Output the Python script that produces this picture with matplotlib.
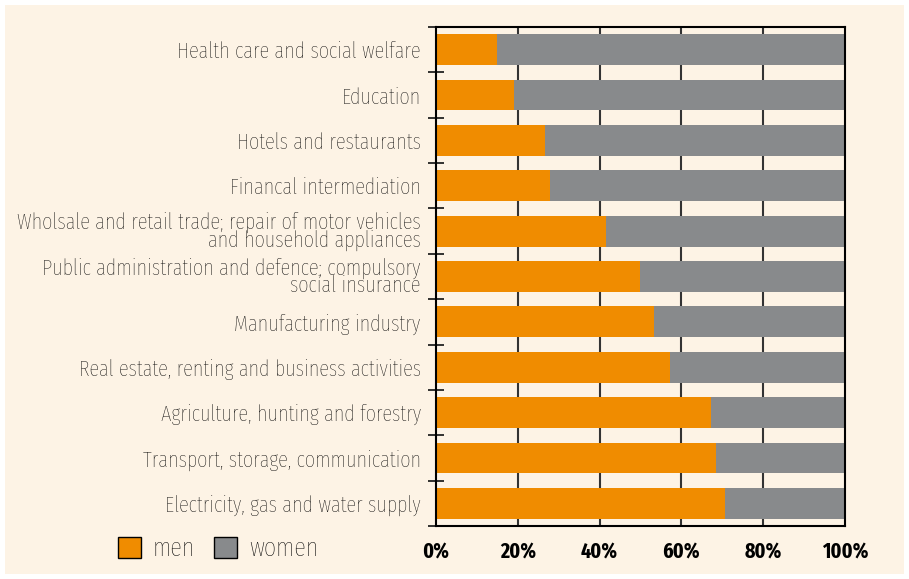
import matplotlib
matplotlib.use("Agg")
import matplotlib.pyplot as plt
from matplotlib.patches import Patch, Rectangle
import numpy as np

# categories from top to bottom
sectors = [
    "Health care and social welfare",
    "Education",
    "Hotels and restaurants",
    "Financal intermediation",
    "Wholsale and retail trade; repair of motor vehicles\nand household appliances",
    "Public administration and defence; compulsory\nsocial insurance",
    "Manufacturing industry",
    "Real estate, renting and business activities",
    "Agriculture, hunting and forestry",
    "Transport, storage, communication",
    "Electricity, gas and water supply",
]
men = [14.9, 19.1, 26.7, 27.9, 41.5, 49.9, 53.3, 57.2, 67.2, 68.5, 70.7]
women = [100 - m for m in men]
xticks = [0, 20, 40, 60, 80, 100]

orange = "#f08c00"
grey = "#888a8c"
cream = "#fdf3e5"
fam = ["Fira Sans Extra Condensed", "DejaVu Sans"]

fig = plt.figure(figsize=(9.09, 5.79), dpi=100, facecolor="white")
fig.patches.append(Rectangle((5 / 909, 5 / 579), 899 / 909, 569 / 579,
                             transform=fig.transFigure, facecolor=cream,
                             edgecolor="none", zorder=-10))
ax = fig.add_axes([436 / 909, 53 / 579, 409 / 909, 499 / 579])
ax.set_facecolor(cream)

y = np.arange(len(sectors))
ax.barh(y, men, height=0.68, color=orange, zorder=2)
ax.barh(y, women, left=men, height=0.68, color=grey, zorder=2)

ax.set_xlim(0, 100)
ax.set_ylim(len(sectors) - 0.5, -0.5)

for x in xticks[1:-1]:
    ax.axvline(x, color="#333333", lw=1.5, zorder=1)

for s in ax.spines.values():
    s.set_linewidth(1.5)
    s.set_color("black")

ax.set_xticks(xticks)
ax.set_xticklabels([f"{v}%" for v in xticks], fontweight="bold",
                   fontsize=15.5, family=fam)
ax.tick_params(axis="x", length=0, pad=11)

# boundary ticks on the y axis, labels at category centres
ax.set_yticks(np.arange(-0.5, len(sectors)), minor=False)
ax.set_yticklabels([])
ax.tick_params(axis="y", which="major", direction="inout", length=11.5,
               width=1.3, color="#222222")
ax.set_yticks(y, minor=True)
ax.set_yticklabels(sectors, minor=True, fontsize=16, family=fam,
                   fontweight="light", color="black", linespacing=0.78)
ax.tick_params(axis="y", which="minor", length=0, pad=11)

handles = [Patch(facecolor=orange, edgecolor="black", lw=1),
           Patch(facecolor=grey, edgecolor="black", lw=1)]
fig.legend(handles, ["men", "women"], loc="center left",
           bbox_to_anchor=(118 / 909, 1 - 549 / 579), ncol=2, frameon=False,
           borderpad=0, borderaxespad=0,
           handlelength=0.87, handleheight=0.83, handletextpad=0.45,
           columnspacing=0.72,
           prop={"family": fam, "size": 19, "weight": "light"},
           labelcolor="black")

fig.savefig("out.png", dpi=100, facecolor="white")
